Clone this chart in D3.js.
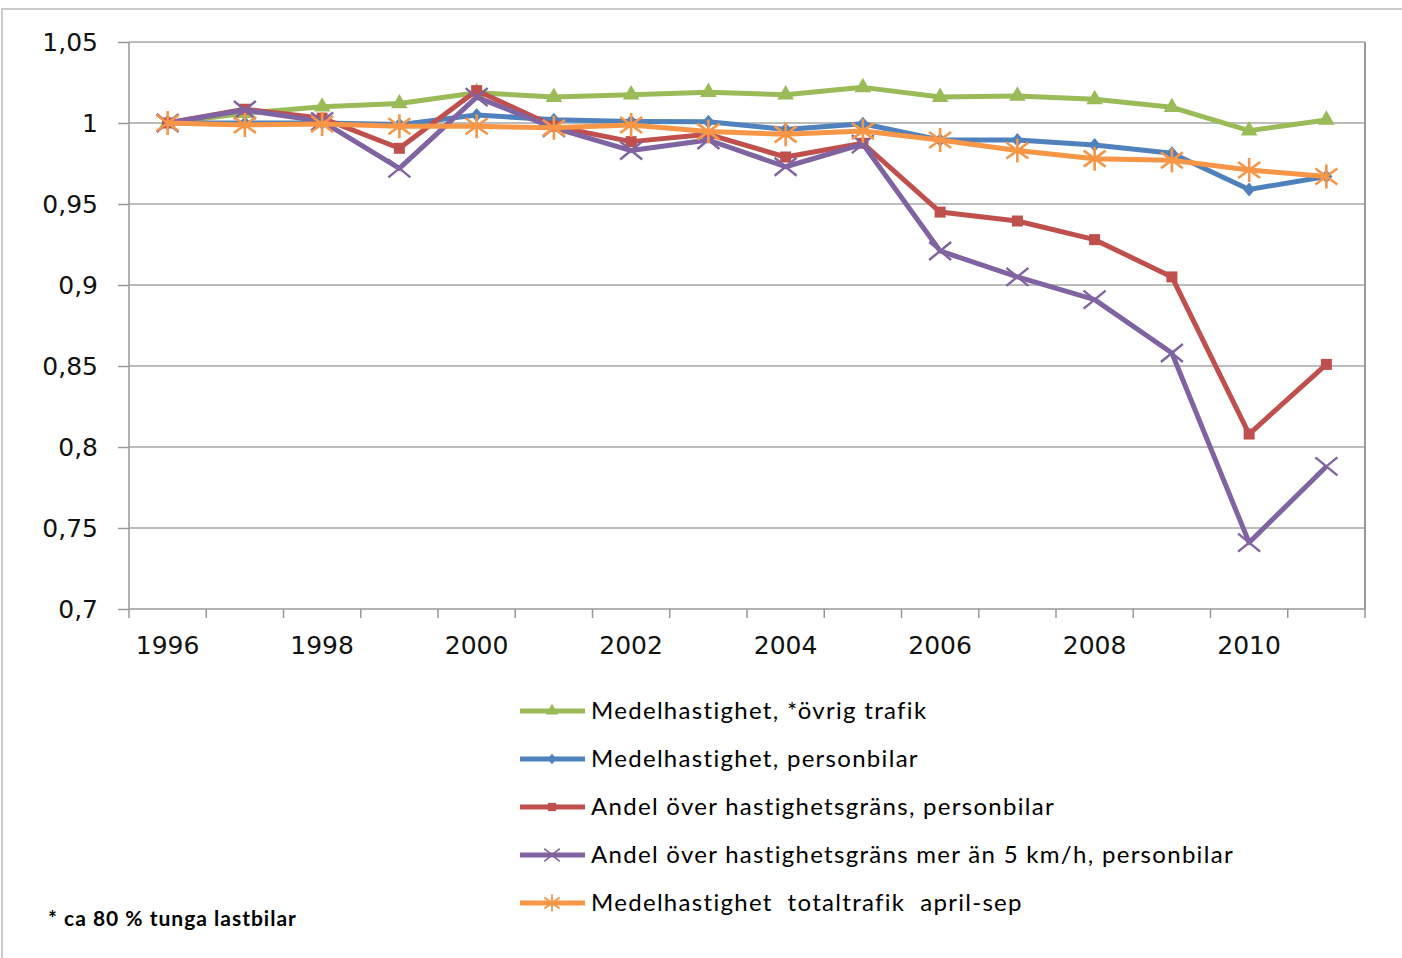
<!DOCTYPE html>
<html>
<head>
<meta charset="utf-8">
<style>
  body { margin: 0; background: #fff; }
  svg { display: block; }
  .axis text { font-family: "DejaVu Sans", Verdana, sans-serif; font-size: 25px; fill: #111; }
  .axis path, .axis line { stroke: #999; stroke-width: 1.5px; }
  .grid line { stroke: #a6a6a6; stroke-width: 1.5px; }
  .legend text { font-family: Lato, "Open Sans", sans-serif; font-size: 24px; letter-spacing: 1.3px; fill: #000; }
  .note { font-family: Lato, "Open Sans", sans-serif; font-size: 21px; font-weight: bold; letter-spacing: 1px; fill: #000; }
</style>
</head>
<body>
<svg width="1402" height="958"></svg>
<script src="https://d3js.org/d3.v7.min.js"></script>
<script>

// years on the x axis, labels on every second one
var years = d3.range(1996, 2012);
var yearLabels = [1996, 1998, 2000, 2002, 2004, 2006, 2008, 2010];
var yTicks = [0.7, 0.75, 0.8, 0.85, 0.9, 0.95, 1, 1.05];

// index series (1996 = 1)
var ovrigTrafik   = [1.000, 1.006, 1.010, 1.012, 1.0187, 1.016, 1.0175, 1.019, 1.0175, 1.022, 1.016, 1.0167, 1.0146, 1.0097, 0.9953, 1.0019];
var personbilar   = [1.000, 1.000, 1.000, 0.999, 1.005, 1.002, 1.001, 1.0008, 0.996, 0.9995, 0.9895, 0.9895, 0.9864, 0.9813, 0.959, 0.967];
var andelOver     = [1.000, 1.0085, 1.003, 0.9844, 1.020, 0.998, 0.9885, 0.993, 0.979, 0.9875, 0.945, 0.9395, 0.928, 0.905, 0.808, 0.851];
var andelOver5    = [1.000, 1.008, 1.001, 0.972, 1.016, 0.997, 0.983, 0.9895, 0.973, 0.987, 0.921, 0.905, 0.891, 0.858, 0.741, 0.788];
var totaltrafik   = [1.000, 0.9988, 0.9994, 0.998, 0.998, 0.997, 0.9988, 0.9947, 0.993, 0.995, 0.9895, 0.983, 0.978, 0.977, 0.971, 0.967];

var seriesNames = [
  "Medelhastighet, *övrig trafik",
  "Medelhastighet, personbilar",
  "Andel över hastighetsgräns, personbilar",
  "Andel över hastighetsgräns mer än 5 km/h, personbilar",
  "Medelhastighet  totaltrafik  april-sep"
];
var seriesValues = [ovrigTrafik, personbilar, andelOver, andelOver5, totaltrafik];
var seriesColors = ["#9bbb59", "#4f81bd", "#c0504d", "#8064a2", "#f79646"];
var seriesMarkers = ["triangle", "diamond", "square", "x", "star"];

var svg = d3.select("svg");
var plotLeft = 129, plotRight = 1365, plotTop = 42, plotBottom = 609;

var x = d3.scaleBand().domain(years).range([plotLeft, plotRight]).padding(0);
var y = d3.scaleLinear().domain([0.7, 1.05]).range([plotBottom, plotTop]);
var cx = function(yr) { return x(yr) + x.bandwidth() / 2; };

var sv = d3.formatLocale({decimal: ",", thousands: " ", grouping: [3], currency: ["", " kr"]});
var fmt = sv.format("~g");

// outer chart border
svg.append("rect")
    .attr("x", 2).attr("y", 9)
    .attr("width", 1500).attr("height", 1000)
    .attr("fill", "none").attr("stroke", "#bbb").attr("stroke-width", 1.5);

// horizontal gridlines
svg.append("g")
    .attr("class", "grid")
  .selectAll("line")
  .data(yTicks.filter(function(d) { return d > 0.7; }))
  .enter().append("line")
    .attr("x1", plotLeft).attr("x2", plotRight)
    .attr("y1", function(d) { return y(d); })
    .attr("y2", function(d) { return y(d); });

svg.append("line")
    .attr("x1", plotRight).attr("x2", plotRight)
    .attr("y1", plotTop).attr("y2", plotBottom)
    .attr("stroke", "#999").attr("stroke-width", 2);

// y axis
svg.append("g")
    .attr("class", "axis")
    .attr("transform", "translate(" + plotLeft + ",0)")
    .call(d3.axisLeft(y).tickValues(yTicks).tickFormat(fmt).tickSize(11).tickPadding(20))
    .call(function(g) { g.select(".domain").attr("d", "M0," + plotTop + "V" + plotBottom); });

// x axis: labels centred, ticks on category boundaries
var xAxis = svg.append("g")
    .attr("class", "axis")
    .attr("transform", "translate(0," + plotBottom + ")")
    .call(d3.axisBottom(x).tickValues(yearLabels).tickSize(0).tickPadding(27));
xAxis.select(".domain").attr("d", "M" + plotLeft + ",0H" + plotRight);
xAxis.append("g")
  .selectAll("line")
  .data(years.concat([null]))
  .enter().append("line")
    .attr("x1", function(d) { return d === null ? plotRight : x(d); })
    .attr("x2", function(d) { return d === null ? plotRight : x(d); })
    .attr("y1", 0).attr("y2", 9)
    .attr("stroke", "#999").attr("stroke-width", 1.5);

function drawMarker(g, type, color) {
  if (type === "triangle") {
    g.append("path").attr("d", d3.symbol(d3.symbolTriangle, 120)).attr("fill", color);
  } else if (type === "diamond") {
    g.append("path").attr("d", "M0,-7L6,0L0,7L-6,0Z").attr("fill", color);
  } else if (type === "square") {
    g.append("rect").attr("x", -5.5).attr("y", -5.5).attr("width", 11).attr("height", 11).attr("fill", color);
  } else if (type === "x") {
    g.append("path").attr("d", "M-11,-9L11,9M-11,9L11,-9")
      .attr("stroke", color).attr("stroke-width", 2.4).attr("fill", "none");
  } else if (type === "star") {
    g.append("path").attr("d", "M-11,-8L11,8M-11,8L11,-8M0,-12V12")
      .attr("stroke", color).attr("stroke-width", 2.6).attr("fill", "none");
  }
}

var line = d3.line()
    .x(function(d, i) { return cx(years[i]); })
    .y(function(d) { return y(d); });

var plot = svg.append("g").attr("class", "series");
seriesValues.forEach(function(vals, s) {
  var g = plot.append("g");
  g.append("path")
      .datum(vals)
      .attr("fill", "none")
      .attr("stroke", seriesColors[s])
      .attr("stroke-width", 5)
      .attr("stroke-linejoin", "round")
      .attr("d", line);
  g.selectAll("g.pt")
    .data(vals)
    .enter().append("g")
      .attr("class", "pt")
      .attr("transform", function(d, i) { return "translate(" + cx(years[i]) + "," + y(d) + ")"; })
      .each(function() { drawMarker(d3.select(this), seriesMarkers[s], seriesColors[s]); });
});

// legend
var legend = svg.append("g").attr("class", "legend");
seriesNames.forEach(function(name, s) {
  var row = legend.append("g").attr("transform", "translate(0," + (711 + s * 48) + ")");
  row.append("line")
      .attr("x1", 520).attr("x2", 585)
      .attr("stroke", seriesColors[s]).attr("stroke-width", 5);
  var m = row.append("g");
  if (seriesMarkers[s] === "x" || seriesMarkers[s] === "star") {
    m.attr("transform", "translate(552,0) scale(0.7)");
  } else {
    m.attr("transform", "translate(552,0) scale(0.75)");
  }
  drawMarker(m, seriesMarkers[s], seriesColors[s]);
  row.append("text")
      .attr("x", 591).attr("dy", "0.35em")
      .style("white-space", "pre")
      .text(name);
});

svg.append("text")
    .attr("class", "note")
    .attr("x", 48).attr("y", 926)
    .text("* ca 80 % tunga lastbilar");

</script>
</body>
</html>
